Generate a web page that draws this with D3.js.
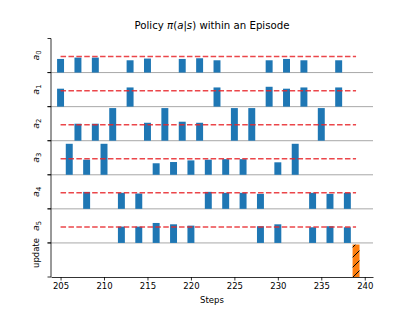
<!DOCTYPE html>
<html>
<head>
<meta charset="utf-8">
<script src="https://cdn.jsdelivr.net/npm/d3@7"></script>
<style>
  body { margin: 0; background: #fff; }
  text { font-family: "DejaVu Sans", sans-serif; }
</style>
</head>
<body>
<div id="chart"></div>
<script>
// policy probability per step, one list per action row: [step, prob]
const a0 = [[205,0.142],[207,0.156],[209,0.156],[213,0.128],[215,0.146],[219,0.142],
            [221,0.149],[223,0.128],[229,0.128],[231,0.142],[233,0.128],[237,0.128]];
const a1 = [[205,0.187],[213,0.200],[223,0.200],[229,0.207],[231,0.187],[233,0.200],[237,0.200]];
const a2 = [[207,0.177],[209,0.177],[211,0.340],[215,0.187],[217,0.340],[219,0.198],
            [221,0.187],[225,0.340],[227,0.340],[235,0.340]];
const a3 = [[206,0.323],[208,0.157],[210,0.323],[216,0.120],[218,0.133],[220,0.150],
            [222,0.157],[224,0.163],[226,0.163],[230,0.130],[232,0.323]];
const a4 = [[208,0.177],[212,0.167],[214,0.160],[222,0.177],[224,0.167],[226,0.167],
            [228,0.156],[234,0.167],[236,0.156],[238,0.167]];
const a5 = [[212,0.170],[214,0.170],[216,0.208],[218,0.194],[220,0.180],[228,0.174],
            [230,0.194],[234,0.163],[236,0.174],[238,0.163]];
const updates = [[239,1]];
const rowNames = ["a0","a1","a2","a3","a4","a5","update"];
const xTicks = [205,210,215,220,225,230,235,240];
const uniform = 1/6;
const refStart = 205, refEnd = 239;

const rows = [a0,a1,a2,a3,a4,a5,updates];

const W = 415, H = 312;
const svg = d3.select("#chart").append("svg")
  .attr("width", W).attr("height", H);

const defs = svg.append("defs");
const pat = defs.append("pattern")
  .attr("id", "hatch")
  .attr("patternUnits", "userSpaceOnUse")
  .attr("width", 10).attr("height", 10);
pat.append("rect").attr("width", 10).attr("height", 10).attr("fill", "#ff7f0e");
pat.append("path")
  .attr("d", "M-1,1 l2,-2 M0,10 l10,-10 M9,11 l2,-2")
  .attr("stroke", "#000").attr("stroke-width", 1);

const x = d3.scaleLinear().domain([203.9, 240.95]).range([51, 373]);
const band = d3.scaleBand().domain(rowNames).range([38.5, 277]).padding(0);
const rh = band.bandwidth();
const barW = x(205.8) - x(205);

rows.forEach((data, i) => {
  const name = rowNames[i];
  const isUpdate = name === "update";
  const y = d3.scaleLinear()
    .domain([0, isUpdate ? 1.05 : 0.355])
    .range([band(name) + rh, band(name)]);

  const g = svg.append("g");

  // light bottom line of each row
  if (!isUpdate) {
    g.append("line")
      .attr("x1", 51).attr("x2", 373)
      .attr("y1", y(0)).attr("y2", y(0))
      .attr("stroke", "#a8a8a8").attr("stroke-width", 1);
  }

  g.selectAll("rect.bar")
    .data(data)
    .enter().append("rect")
      .attr("class", "bar")
      .attr("x", d => x(d[0]) - barW / 2)
      .attr("width", barW)
      .attr("y", d => y(Math.min(d[1], y.domain()[1])))
      .attr("height", d => y(0) - y(Math.min(d[1], y.domain()[1])))
      .attr("fill", isUpdate ? "url(#hatch)" : "#1f77b4");

  if (!isUpdate) {
    g.append("line")
      .attr("x1", x(refStart)).attr("x2", x(refEnd))
      .attr("y1", y(uniform)).attr("y2", y(uniform))
      .attr("stroke", "#e8262a").attr("stroke-opacity", 0.85)
      .attr("stroke-width", 1.5)
      .attr("stroke-dasharray", "5.5,2.4");
  }

  // tick marks on the left spine at the row edges
  [band(name), band(name) + rh].forEach(ty => {
    svg.append("line")
      .attr("x1", 47.5).attr("x2", 51)
      .attr("y1", ty).attr("y2", ty)
      .attr("stroke", "#000").attr("stroke-width", 0.8);
  });

  // row label
  const cy = isUpdate ? band(name) + rh / 2 - 7 : band(name) + rh / 2;
  const lab = svg.append("text")
    .attr("transform", `translate(39,${cy}) rotate(-90)`)
    .attr("text-anchor", "middle")
    .attr("font-size", isUpdate ? 8.5 : 9.5)
    .attr("fill", "#000");
  if (isUpdate) {
    lab.text("update");
  } else {
    lab.append("tspan").attr("font-style", "italic").text("a");
    lab.append("tspan").attr("font-size", 6.8).attr("dy", 2).text(name.slice(1));
  }
});

// left spine
svg.append("line")
  .attr("x1", 51).attr("x2", 51)
  .attr("y1", 38.5).attr("y2", 277)
  .attr("stroke", "#000").attr("stroke-width", 0.8);

// x axis at the bottom
const xAxis = svg.append("g")
  .attr("transform", "translate(0,277)")
  .call(d3.axisBottom(x).tickValues(xTicks).tickSize(3.5).tickPadding(2.5).tickSizeOuter(0));
xAxis.select(".domain").attr("stroke", "#000").attr("stroke-width", 0.8);
xAxis.selectAll("text").attr("font-size", 8.5).attr("font-family", "DejaVu Sans").attr("fill", "#000");
xAxis.selectAll(".tick line").attr("stroke-width", 0.8);

svg.append("text")
  .attr("x", 212).attr("y", 303)
  .attr("text-anchor", "middle")
  .attr("font-size", 8.5)
  .text("Steps");

// title with math parts
const title = svg.append("text")
  .attr("x", 212).attr("y", 29)
  .attr("text-anchor", "middle")
  .attr("font-size", 10.2);
title.append("tspan").text("Policy ");
title.append("tspan").attr("font-style", "italic").text("π");
title.append("tspan").text("(");
title.append("tspan").attr("font-style", "italic").text("a");
title.append("tspan").text("|");
title.append("tspan").attr("font-style", "italic").text("s");
title.append("tspan").text(") within an Episode");
</script>
</body>
</html>
